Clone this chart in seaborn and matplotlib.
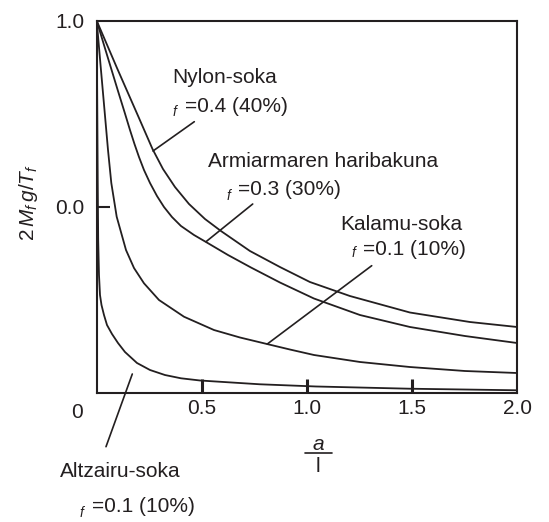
import numpy as np
import pandas as pd
import matplotlib
matplotlib.use("Agg")
import matplotlib.pyplot as plt
import seaborn as sns
from matplotlib.lines import Line2D

# Curve values (x = a/l, y = 2 M_f g / T_f)
nylon_x = [0, 0.0966, 0.2012, 0.2655, 0.3154, 0.3725, 0.4391, 0.5152, 0.5913, 0.7293,
           0.872, 1.0147, 1.205, 1.4905, 1.7759, 2.0]
nylon_y = [1.0, 0.8729, 0.7386, 0.6554, 0.6017, 0.5533, 0.5077, 0.4674, 0.4351, 0.3814,
           0.3384, 0.2981, 0.2605, 0.2162, 0.1907, 0.1773]

spider_x = [0, 0.0347, 0.068, 0.1013, 0.1323, 0.1584, 0.1798, 0.2012, 0.225, 0.2536, 0.2869,
            0.3202, 0.3582, 0.401, 0.4629, 0.52, 0.6246, 0.7341, 0.872, 1.0338, 1.2526,
            1.4905, 1.7521, 2.0]
spider_y = [1.0, 0.9347, 0.8729, 0.8112, 0.7548, 0.7064, 0.6688, 0.6339, 0.599, 0.5641, 0.5291,
            0.4996, 0.4727, 0.4486, 0.4244, 0.4056, 0.3707, 0.3371, 0.2968, 0.2538, 0.2095,
            0.1773, 0.1531, 0.1343]

hemp_x = [0, 0.0195, 0.0371, 0.0538, 0.0695, 0.0951, 0.1394, 0.1775, 0.225, 0.2964, 0.4153,
          0.558, 0.6817, 0.8102, 0.9196, 1.0338, 1.2526, 1.4905, 1.7521, 2.0]
hemp_y = [1.0, 0.8729, 0.7601, 0.6527, 0.5641, 0.4735, 0.3841, 0.3357, 0.2947, 0.2498, 0.2049,
          0.1692, 0.1491, 0.1316, 0.1168, 0.1021, 0.0833, 0.0698, 0.0591, 0.0537]

steel_x = [0, 0.0024, 0.0048, 0.0071, 0.0109, 0.0157, 0.0228, 0.0347, 0.049, 0.0728, 0.1013,
           0.1346, 0.1917, 0.2536, 0.3249, 0.401, 0.4914, 0.6056, 0.7769, 1.0433, 1.4905, 2.0]
steel_y = [1.0, 0.787, 0.5721, 0.411, 0.3169, 0.2632, 0.2364, 0.2095, 0.1826, 0.1585, 0.1343,
           0.1101, 0.0806, 0.0618, 0.0483, 0.0395, 0.0336, 0.0295, 0.0234, 0.0175, 0.0115, 0.0073]

x_ticks = [0.5, 1.0, 1.5, 2.0]
x_tick_labels = ["0.5", "1.0", "1.5", "2.0"]
y_ticks = [0.5, 1.0]
y_tick_labels = ["0.0", "1.0"]

names = ["Nylon-soka", "Armiarmaren haribakuna", "Kalamu-soka", "Altzairu-soka"]
values = ["=0.4 (40%)", "=0.3 (30%)", "=0.1 (10%)", "=0.1 (10%)"]

frames = []
for name, xs, ys in zip(names, [nylon_x, spider_x, hemp_x, steel_x],
                        [nylon_y, spider_y, hemp_y, steel_y]):
    frames.append(pd.DataFrame({"curve": name, "x": xs, "y": ys}))
df = pd.concat(frames, ignore_index=True)

sns.set_theme(style="white")
plt.rcParams["font.family"] = ["Liberation Sans", "DejaVu Sans"]
plt.rcParams["mathtext.fontset"] = "custom"
plt.rcParams["mathtext.rm"] = "Liberation Sans"
plt.rcParams["mathtext.it"] = "Liberation Sans:italic"

ink = "#231f20"
W, H = 549, 522

fig = plt.figure(figsize=(W / 100, H / 100), dpi=100)
ax = fig.add_axes([96.7 / W, 1 - 393 / H, (517 - 96.7) / W, (393 - 20.7) / H])

sns.lineplot(data=df, x="x", y="y", units="curve", estimator=None, sort=False,
             color=ink, linewidth=1.3, ax=ax)

ax.set_xlim(0, 2)
ax.set_ylim(0, 1)
ax.set_xlabel("")
ax.set_ylabel("")
ax.set_xticks(x_ticks)
ax.set_xticklabels(x_tick_labels)
ax.set_yticks(y_ticks)
ax.set_yticklabels(y_tick_labels)
ax.tick_params(axis="x", bottom=True, direction="in", length=10, width=2.2, color=ink,
               labelsize=15, labelcolor=ink, pad=4)
ax.tick_params(axis="y", left=True, direction="in", length=9.5, width=1.5, color=ink,
               labelsize=15, labelcolor=ink, pad=9)
# the 2.0 and 1.0 ticks sit on the frame corners, hide their marks
ax.xaxis.get_major_ticks()[-1].tick1line.set_visible(False)
ax.yaxis.get_major_ticks()[-1].tick1line.set_visible(False)
for s in ax.spines.values():
    s.set_color(ink)
    s.set_linewidth(1.5)


def px(x, y):
    return x / W, 1 - y / H


# origin label
fig.text(*px(76.7, 413), "0", fontsize=15, color=ink, ha="center", va="center")

# x label as a stacked fraction a / l
fig.text(*px(318, 444), "a", fontsize=15, style="italic", color=ink, ha="center", va="center")
fig.add_artist(Line2D([305 / W, 331.7 / W], [1 - 453.3 / H, 1 - 453.3 / H],
                      color=ink, linewidth=1.2))
fig.text(*px(318, 466), "l", fontsize=15, color=ink, ha="center", va="center")

# y label
fig.text(*px(29, 203), r"$2\,M_f\,g/T_f$", fontsize=15, color=ink, rotation=90,
         ha="center", va="center")

# curve labels: name line, subscript f, value line
label_pos = [
    ((172, 82.7), (172.5, 116), (185, 111.7)),
    ((208.3, 166.7), (227, 200), (238.3, 195)),
    ((340, 230), (351.7, 256.7), (363.3, 255)),
    ((60, 476.7), (79.3, 516.7), (91.7, 511.7)),
]
for name, val, (p_name, p_f, p_val) in zip(names, values, label_pos):
    fig.text(*px(*p_name), name, fontsize=15, color=ink, va="baseline")
    fig.text(*px(*p_f), "f", fontsize=10, style="italic", color=ink, va="baseline")
    fig.text(*px(*p_val), val, fontsize=15, color=ink, va="baseline")

# leader lines from the labels to the curves (figure pixels)
leaders = [
    ((194.3, 121.7), (153, 151)),
    ((252.7, 204), (206, 241.7)),
    ((371.7, 265.7), (267.3, 344)),
    ((132.3, 374), (106, 446.7)),
]
for (x0, y0), (x1, y1) in leaders:
    fig.add_artist(Line2D([x0 / W, x1 / W], [1 - y0 / H, 1 - y1 / H],
                          color=ink, linewidth=1.2))

fig.savefig("out.png", dpi=100)
